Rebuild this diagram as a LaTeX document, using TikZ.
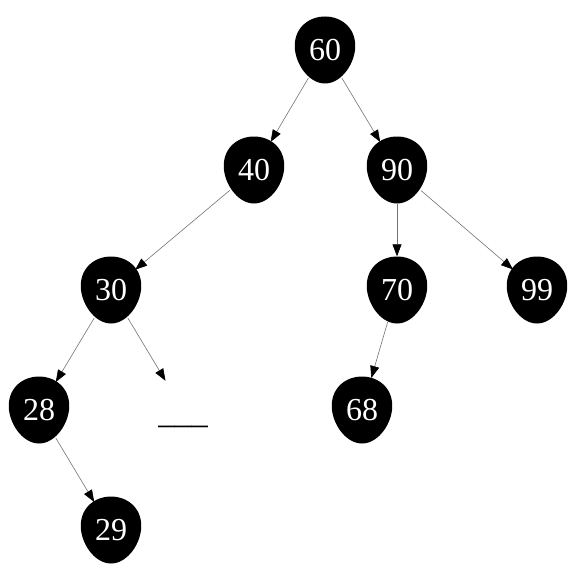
\documentclass[tikz,border=0pt]{standalone}
\usepackage{fontspec}
\setmainfont{Liberation Serif}
\usetikzlibrary{arrows.meta,shapes.geometric}
\tikzset{
  eggnode/.style={ellipse, draw=none, minimum width=60pt, minimum height=67pt, inner sep=0pt, text=white, font=\fontsize{32}{32}\selectfont},
  eggfill/.style={fill=black},
  blanknode/.style={rectangle, draw=none, minimum width=64pt, minimum height=58pt, inner sep=0pt, text height=0.7em, text depth=0.3em, font=\fontsize{33}{33}\selectfont},
  edge/.style={draw=black!55, line width=0.6pt, -{Triangle[length=12pt,width=9pt,fill=black,color=black]}}
}
\begin{document}
\begin{tikzpicture}[x=1pt,y=-1pt]
\useasboundingbox (0,0) rectangle (577,575);
\foreach \n/\x/\y/\t in {n60/325/50/60, n40/254/170/40, n90/397/170/90, n30/111/290/30, n70/397/290/70, n99/537/290/99, n28/39/410/28, n68/362/410/68, n29/111/530/29}{
  \fill[eggfill, shift={(\x,\y)}] plot[smooth cycle, domain=0:350, samples=36, variable=\s] ({30*cos(\s)*(1+0.13*sin(\s))}, {-33.5*sin(\s)});
  \node[eggnode] (\n) at (\x,\y) {\t};
}
\node[blanknode] (e) at (183,410) {\raisebox{-11pt}{\char"5F\char"5F\char"5F}};
\draw[edge] (n60) -- (n40);
\draw[edge] (n60) -- (n90);
\draw[edge] (n40) -- (n30);
\draw[edge] (n90) -- (n70);
\draw[edge] (n90) -- (n99);
\draw[edge] (n30) -- (n28);
\draw[edge] (n30) -- (e);
\draw[edge] (n70) -- (n68);
\draw[edge] (n28) -- (n29);
\end{tikzpicture}
\end{document}
